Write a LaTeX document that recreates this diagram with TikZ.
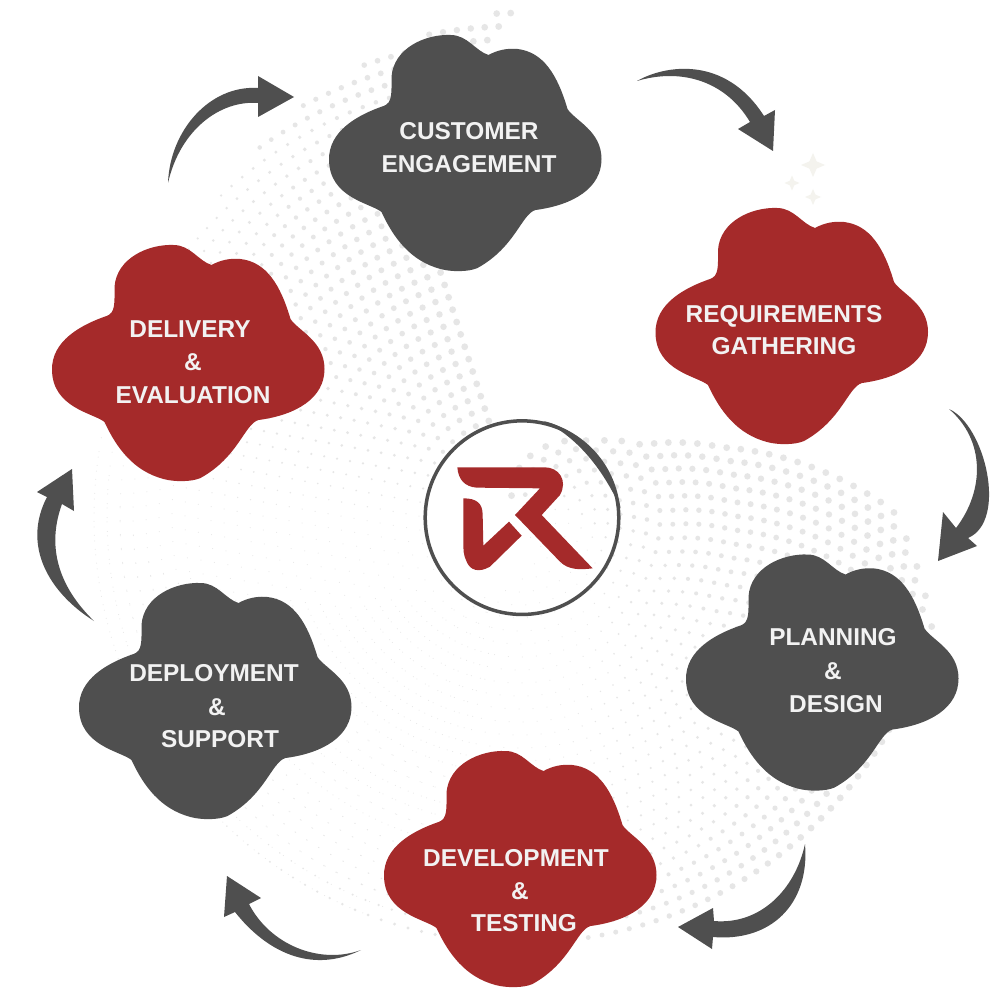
\documentclass[tikz,border=0pt]{standalone}
\usepackage{fontspec}
\setmainfont{Liberation Sans}

\definecolor{lobegrey}{HTML}{4F4F4F}
\definecolor{lobered}{HTML}{A52A2A}
\definecolor{dotgrey}{HTML}{E6E6E6}
\definecolor{sparkgrey}{HTML}{F4F3EE}
\definecolor{labelgrey}{HTML}{F2F2F2}

\tikzset{
    lobetext/.style={text=labelgrey,font=\fontsize{24.4}{25}\selectfont\bfseries,inner sep=0pt,text height=17.5pt,text depth=0pt},
    turnarrow/.style={fill=lobegrey},
    declare function={
        edgea(\r)=\r<350 ? -108 : -108+(\r-350)*.11;
        edgeb(\r)=\r<105 ? -46-(105-\r)*.8 : (\r<142 ? -46+(\r-105)*.42 : (\r<214 ? -30.5+(\r-142)*.16 : (\r<373 ? -19+(\r-214)*.113 : -1+(\r-373)*.3)));
    }
}

% one cloud, same outline everywhere
\newcommand{\lobe}[3]{
    \fill[#1,shift={(#2,#3)}] (23,-98) .. controls (32,-103) and (42,-105) .. (52,-104)
        .. controls (78,-101) and (92,-78) .. (102,-44)
        .. controls (110,-32) and (136,-22) .. (136,6)
        .. controls (136,35) and (108,52) .. (70,57)
        .. controls (56,61) and (50,94) .. (12,115)
        .. controls (3,119) and (-14,119) .. (-25,116)
        .. controls (-55,108) and (-72,85) .. (-84,59)
        .. controls (-95,50) and (-136,45) .. (-136.5,7)
        .. controls (-137,-22) and (-108,-38) .. (-82,-47)
        .. controls (-73,-50) and (-74,-60) .. (-74,-76)
        .. controls (-72,-105) and (-40,-119) .. (-15,-118)
        .. controls (2,-118) and (10,-102) .. (23,-98) -- cycle;
}

\begin{document}
\begin{tikzpicture}[x=1pt,y=-1pt]
    \useasboundingbox (0,0) rectangle (1000,1000);
    \fill[white] (0,0) rectangle (1000,1000);

    % dots, upper left part
    \foreach \ring in {7,...,38} {
        \pgfmathsetmacro\rad{10+13*\ring}
        \pgfmathsetmacro\stp{deg(14/\rad)}
        \pgfmathsetmacro\edge{edgea(\rad)}
        \pgfmathsetmacro\less{max(0,(\rad-300)*.005)}
        \pgfmathtruncatemacro\nb{(\rad<430 ? 150 : (510-\rad)*.5)/\stp}
        \foreach \k in {0,...,\nb} {
            \pgfmathsetmacro\ang{\edge-\k*\stp}
            \pgfmathsetmacro\dotr{max(.5,3.4-\less*(\rad<440)-.04*\k*\stp)}
            \fill[dotgrey] ({520+\rad*cos(\ang)},{517+\rad*sin(\ang)}) circle[radius=\dotr pt];
        }
    }

    % dots, lower right part
    \foreach \ring in {1,...,32} {
        \pgfmathsetmacro\rad{10+13*\ring}
        \pgfmathsetmacro\stp{deg(14/\rad)}
        \pgfmathsetmacro\edge{edgeb(\rad)}
        \pgfmathsetmacro\more{max(0,(\rad-330)*.01)}
        \pgfmathtruncatemacro\nb{175/\stp}
        \foreach \k in {0,...,\nb} {
            \pgfmathsetmacro\ang{\edge+\k*\stp}
            \pgfmathsetmacro\dotr{max(.5,min(3.4,3.4+\more-.03*\k*\stp))}
            \fill[dotgrey] ({520+\rad*cos(\ang)},{517+\rad*sin(\ang)}) circle[radius=\dotr pt];
        }
    }

    % sparkles
    \foreach \sx/\sy/\sr in {813/165/12,792/183/7.5,813/197/8} {
        \fill[sparkgrey] ({\sx},{\sy-\sr}) -- ({\sx+.3*\sr},{\sy-.3*\sr}) -- ({\sx+\sr},{\sy})
            -- ({\sx+.3*\sr},{\sy+.3*\sr}) -- ({\sx},{\sy+\sr}) -- ({\sx-.3*\sr},{\sy+.3*\sr})
            -- ({\sx-\sr},{\sy}) -- ({\sx-.3*\sr},{\sy-.3*\sr}) -- cycle;
    }

    % clouds
    \lobe{lobegrey}{465.5}{153}
    \lobe{lobered}{792}{326}
    \lobe{lobegrey}{822.5}{672.5}
    \lobe{lobered}{520.5}{869}
    \lobe{lobegrey}{215.5}{701}
    \lobe{lobered}{188.5}{363}

    % labels
    \node[lobetext] (cust1) at (469,131) {CUSTOMER};
    \node[lobetext] (cust2) at (469,164) {ENGAGEMENT};
    \node[lobetext] (reqs1) at (784,314) {REQUIREMENTS};
    \node[lobetext] (reqs2) at (784,346) {GATHERING};
    \node[lobetext] (plan1) at (833,637) {PLANNING};
    \node[lobetext] (plan2) at (833,671) {\&};
    \node[lobetext] (plan3) at (836,704) {DESIGN};
    \node[lobetext] (devt1) at (516,858) {DEVELOPMENT};
    \node[lobetext] (devt2) at (520,891) {\&};
    \node[lobetext] (devt3) at (524,923) {TESTING};
    \node[lobetext] (depl1) at (214,673) {DEPLOYMENT};
    \node[lobetext] (depl2) at (217,707) {\&};
    \node[lobetext] (depl3) at (220,739) {SUPPORT};
    \node[lobetext] (delv1) at (190,329) {DELIVERY};
    \node[lobetext] (delv2) at (193,362) {\&};
    \node[lobetext] (delv3) at (193,395) {EVALUATION};

    % arrows, clockwise from the top
    \fill[turnarrow] (637,81) .. controls (665,65) and (725,55) .. (764,116) -- (775,110) -- (773,151)
        -- (738,129) -- (750,122) .. controls (725,80) and (680,68) .. (637,81) -- cycle;
    \fill[turnarrow] (949,409) .. controls (985,425) and (1008,521) .. (968,538) -- (977,546) -- (938,561)
        -- (943,512) -- (956,528) .. controls (985,490) and (985,440) .. (949,409) -- cycle;
    \fill[turnarrow] (805,844) .. controls (810,905) and (770,942) .. (713,937) -- (712,949) -- (678,927)
        -- (713,908) -- (714,921) .. controls (760,925) and (795,890) .. (805,844) -- cycle;
    \fill[turnarrow] (361,950) .. controls (310,975) and (265,950) .. (235,912) -- (224,917) -- (227,876)
        -- (261,898) -- (249,904) .. controls (270,945) and (320,965) .. (361,950) -- cycle;
    \fill[turnarrow] (94,621) .. controls (48,592) and (22,545) .. (47,497) -- (37,492) -- (72,469)
        -- (74,511) -- (62,504) .. controls (47,545) and (57,585) .. (94,621) -- cycle;
    \fill[turnarrow] (168,183) .. controls (170,130) and (210,85) .. (258,88) -- (258,76) -- (294,97)
        -- (258,117) -- (258,103) .. controls (220,100) and (180,130) .. (168,183) -- cycle;

    % logo in the middle
    \begin{scope}[shift={(410,405)},x=.3333pt,y=-.3333pt]
        \draw[lobegrey,line width=3.5pt] (336,338) circle[radius=96.8pt];
        \fill[lobegrey] (400,48) .. controls (500,70) and (605,170) .. (632,310)
            .. controls (582,198) and (503,95) .. (400,48) -- cycle;
        \fill[lobered] (142,187) -- (405,187) .. controls (445,187) and (475,225) .. (450,270)
            -- (395,330) -- (548,490) .. controls (510,495) and (475,495) .. (450,470)
            -- (315,330) -- (390,250) -- (200,248) .. controls (165,245) and (145,225) .. (142,187) -- cycle;
        \fill[lobered] (160,280) .. controls (200,280) and (218,295) .. (218,330) -- (220,422)
            -- (297,350) -- (335,392) -- (240,485) .. controls (205,505) and (180,495) .. (170,470)
            .. controls (160,450) and (160,435) .. (160,410) -- cycle;
    \end{scope}
\end{tikzpicture}
\end{document}
